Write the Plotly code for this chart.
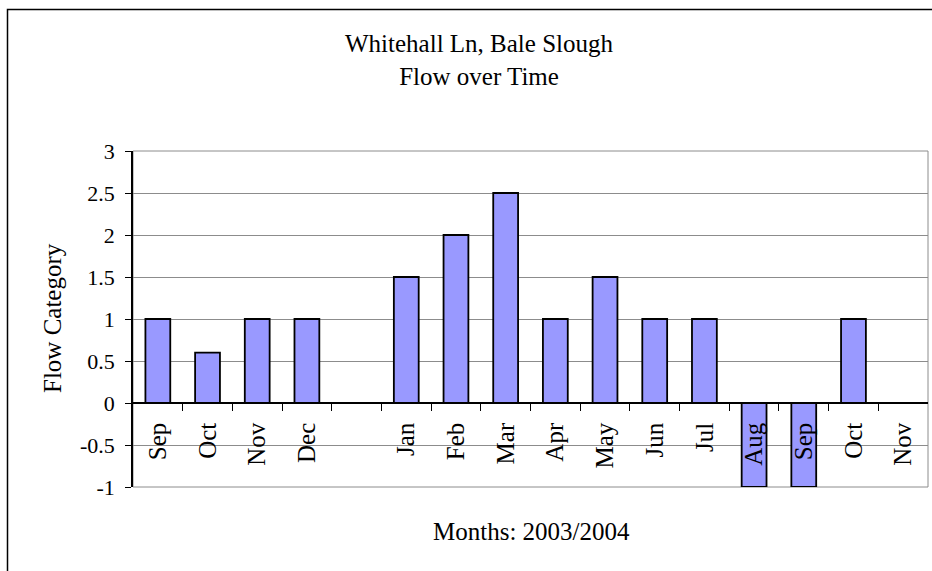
import plotly.graph_objects as go

# Monthly flow categories, Sep 2003 through Nov 2004 (blank slot between Dec and Jan)
months = ["Sep", "Oct", "Nov", "Dec", "", "Jan", "Feb", "Mar", "Apr",
          "May", "Jun", "Jul", "Aug", "Sep", "Oct", "Nov"]
flow = [1, 0.6, 1, 1, None, 1.5, 2, 2.5, 1, 1.5, 1, 1, -1, -1, 1, None]
y_ticks = [3, 2.5, 2, 1.5, 1, 0.5, 0, -0.5, -1]
y_tick_text = ["3", "2.5", "2", "1.5", "1", "0.5", "0", "-0.5", "-1"]

positions = list(range(len(months)))
boundaries = [p + 0.5 for p in positions[:-1]]

W, H = 932, 571
L, R, T, B = 133, 928, 151, 487
Y_MIN, Y_MAX = -1, 3


def px_x(x):
    return (x - L) / (R - L)


def px_y(y):
    return (B - y) / (B - T)


FONT = "Liberation Serif, Times New Roman, serif"

fig = go.Figure()
fig.add_trace(go.Bar(
    x=positions,
    y=flow,
    width=0.5,
    marker=dict(color="#9999FF", line=dict(color="black", width=1.8)),
    showlegend=False,
    hoverinfo="x+y",
))

fig.update_layout(
    width=W,
    height=H,
    margin=dict(l=L, r=W - R, t=T, b=H - B, pad=0),
    paper_bgcolor="white",
    plot_bgcolor="white",
    font=dict(family=FONT, color="black"),
    xaxis=dict(
        range=[-0.5, len(months) - 0.5],
        anchor="free",
        position=(0 - Y_MIN) / (Y_MAX - Y_MIN),
        tickmode="array",
        tickvals=positions,
        ticktext=months,
        tickangle=-90,
        ticks="",
        ticklabelstandoff=9,
        tickfont=dict(size=25, family=FONT, color="black"),
        showline=True,
        linecolor="black",
        linewidth=1.5,
        showgrid=False,
        zeroline=False,
        fixedrange=True,
        minor=dict(
            tickmode="array",
            tickvals=boundaries,
            ticks="outside",
            ticklen=7,
            tickwidth=1,
            tickcolor="black",
            showgrid=False,
        ),
    ),
    yaxis=dict(
        range=[Y_MIN, Y_MAX],
        tickmode="array",
        tickvals=y_ticks,
        ticktext=y_tick_text,
        ticks="outside",
        ticklen=6,
        tickwidth=1,
        tickcolor="black",
        ticklabelstandoff=6,
        tickfont=dict(size=22, family=FONT, color="black"),
        showline=True,
        linecolor="black",
        linewidth=1.5,
        showgrid=True,
        gridcolor="#8c8c8c",
        gridwidth=1,
        zeroline=False,
        fixedrange=True,
    ),
    shapes=[
        # outer chart frame
        dict(type="rect", xref="paper", yref="paper",
             x0=px_x(7.5), x1=px_x(945), y0=px_y(585), y1=px_y(9.5),
             line=dict(color="black", width=1.5), fillcolor="rgba(0,0,0,0)",
             layer="below"),
        # plot-area border
        dict(type="rect", xref="paper", yref="paper",
             x0=0, x1=1, y0=0, y1=1,
             line=dict(color="#8c8c8c", width=1), fillcolor="rgba(0,0,0,0)",
             layer="below"),
    ],
    annotations=[
        dict(text="Whitehall Ln, Bale Slough<br>Flow over Time",
             xref="paper", yref="paper", x=px_x(479), y=px_y(60),
             xanchor="center", yanchor="middle", showarrow=False,
             font=dict(size=25, family=FONT, color="black")),
        dict(text="Flow Category", textangle=-90,
             xref="paper", yref="paper", x=px_x(52), y=px_y(318),
             xanchor="center", yanchor="middle", showarrow=False,
             font=dict(size=25, family=FONT, color="black")),
        dict(text="Months: 2003/2004",
             xref="paper", yref="paper", x=px_x(531), y=px_y(531),
             xanchor="center", yanchor="middle", showarrow=False,
             font=dict(size=25, family=FONT, color="black")),
    ],
    bargap=0.5,
)

fig.write_html("out.html")
